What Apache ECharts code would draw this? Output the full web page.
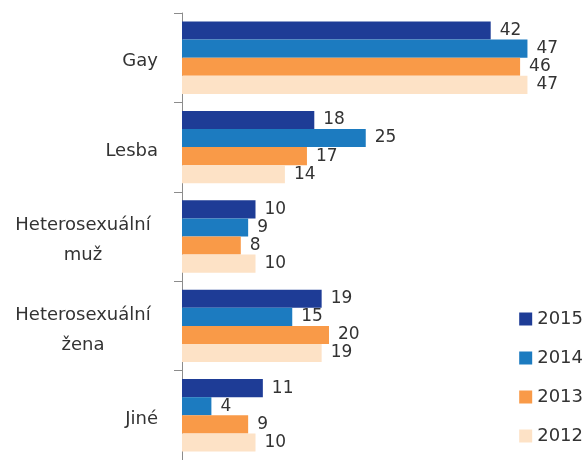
<!DOCTYPE html>
<html><head><meta charset="utf-8">
<script src="https://cdn.jsdelivr.net/npm/echarts@6/dist/echarts.min.js"></script>
<style>html,body{margin:0;padding:0;background:#fff}#c{width:588px;height:460px}</style>
</head><body><div id="c"></div>
<script>
const categories = ['Gay', 'Lesba', 'Heterosexuální\nmuž', 'Heterosexuální\nžena', 'Jiné'];
const years = ['2015', '2014', '2013', '2012'];
const v2015 = [42, 18, 10, 19, 11];
const v2014 = [47, 25, 9, 15, 4];
const v2013 = [46, 17, 8, 20, 9];
const v2012 = [47, 14, 10, 19, 10];
const colors = ['#1E3C96', '#1C7BC0', '#F99A48', '#FDE2C6'];
const FONT = 'DejaVu Sans';
const values = [v2015, v2014, v2013, v2012];
const chart = echarts.init(document.getElementById('c'));
chart.setOption({
  animation: false,
  textStyle: { fontFamily: FONT },
  grid: { left: 182, top: 13, width: 367.5, height: 448 },
  legend: {
    orient: 'vertical', right: 5, top: 310, itemGap: 21, padding: 0,
    itemWidth: 13, itemHeight: 13, icon: 'rect',
    textStyle: { fontSize: 18, color: '#333', fontFamily: FONT },
    data: years
  },
  xAxis: { type: 'value', min: 0, max: 50, show: false },
  yAxis: {
    type: 'category', data: categories, inverse: true,
    axisLine: { lineStyle: { color: '#8c8c8c', width: 1 } },
    axisTick: { show: true, length: 8, lineStyle: { color: '#8c8c8c', width: 1 } },
    axisLabel: {
      margin: 24, fontSize: 18, color: '#333', fontFamily: FONT, padding: [8, 0, 0, 0],
      formatter: function (v) {
        const lines = v.split('\n');
        if (lines.length === 1) return v;
        return lines.map(l => '{m|' + l + '}').join('\n');
      },
      rich: { m: { width: 150, align: 'center', lineHeight: 30, fontSize: 18, color: '#333', fontFamily: FONT } }
    }
  },
  series: years.map((y, i) => ({
    name: y, type: 'bar', data: values[i], barGap: '0%', barCategoryGap: '19%',
    itemStyle: { color: colors[i] },
    label: { show: true, position: 'right', distance: 9, fontSize: 17, color: '#333', fontFamily: FONT }
  }))
});
</script></body></html>
